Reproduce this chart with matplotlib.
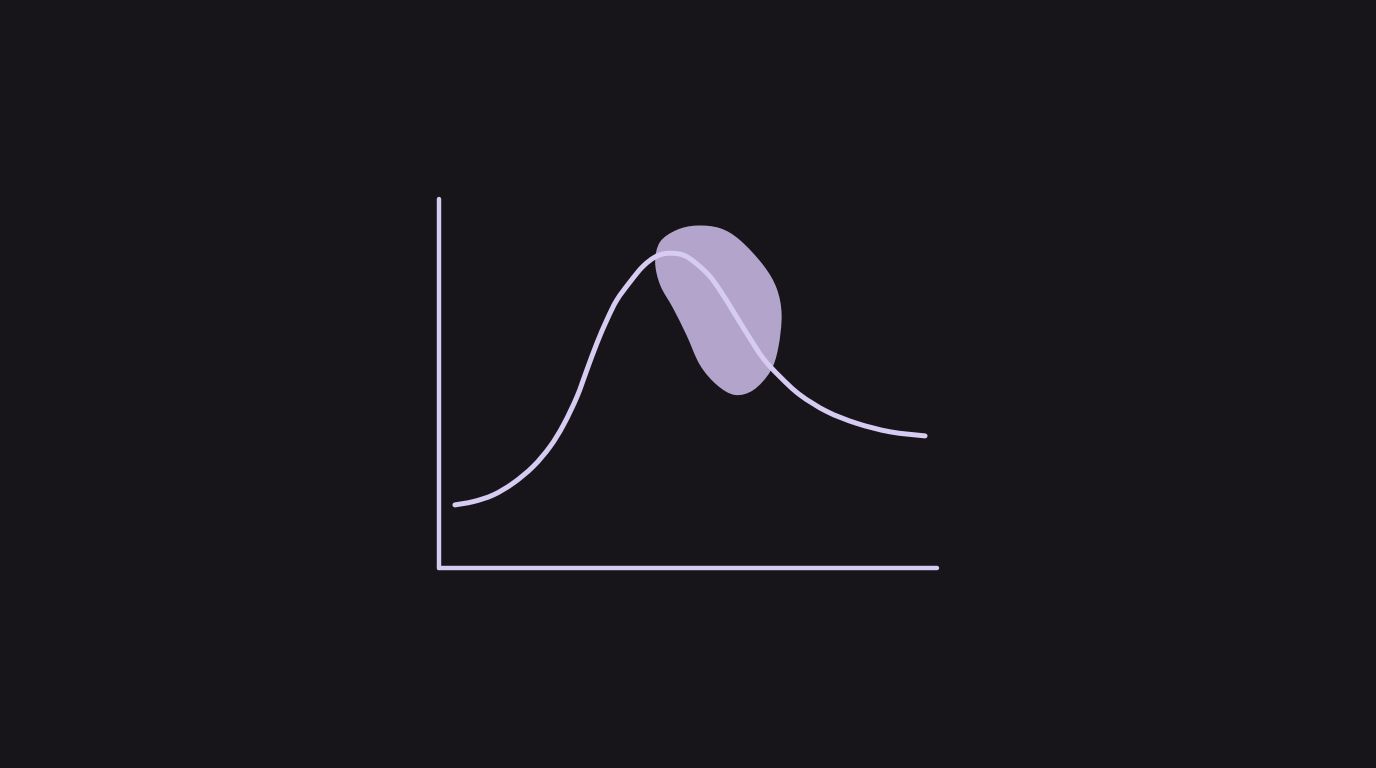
import matplotlib
matplotlib.use("Agg")
import matplotlib.pyplot as plt
from matplotlib.patches import PathPatch
from matplotlib.path import Path

# Curve data (arbitrary units, axes span 0..10)
curve_x = [0.32, 0.69, 1.09, 1.49, 1.89, 2.23, 2.50, 2.77, 2.97, 3.17, 3.37, 3.57,
           3.84, 4.10, 4.37, 4.64, 4.97, 5.38, 5.64, 5.91, 6.18, 6.51, 6.85, 7.25,
           7.79, 8.39, 9.06, 9.76]
curve_y = [1.71, 1.80, 1.98, 2.30, 2.75, 3.29, 3.88, 4.64, 5.37, 6.09, 6.72, 7.26,
           7.76, 8.18, 8.45, 8.53, 8.44, 7.99, 7.53, 6.95, 6.36, 5.68, 5.18, 4.69,
           4.24, 3.92, 3.69, 3.58]

# Highlight blob outline
blob_x = [5.17, 4.77, 4.44, 4.34, 4.44, 4.70, 4.97, 5.24, 5.58, 5.94, 6.31, 6.65,
          6.81, 6.88, 6.78, 6.51, 6.04, 5.64]
blob_y = [9.28, 9.16, 8.84, 8.30, 7.67, 7.04, 6.31, 5.50, 4.96, 4.69, 4.82, 5.32,
          5.95, 6.86, 7.58, 8.21, 8.89, 9.21]

BG = "#18151a"
LINE = "#d6ccf2"
BLOB = "#b2a4cb"


def smooth_path(xs, ys, closed=False):
    """Bezier path passing through the given points (Catmull-Rom style)."""
    pts = list(zip(xs, ys))
    n = len(pts)
    if closed:
        get = lambda i: pts[i % n]
        segs = range(n)
    else:
        get = lambda i: pts[min(max(i, 0), n - 1)]
        segs = range(n - 1)
    verts = [pts[0]]
    codes = [Path.MOVETO]
    for i in segs:
        p0, p1, p2, p3 = get(i - 1), get(i), get(i + 1), get(i + 2)
        c1 = (p1[0] + (p2[0] - p0[0]) / 6, p1[1] + (p2[1] - p0[1]) / 6)
        c2 = (p2[0] - (p3[0] - p1[0]) / 6, p2[1] - (p3[1] - p1[1]) / 6)
        verts += [c1, c2, p2]
        codes += [Path.CURVE4] * 3
    if closed:
        verts.append(pts[0])
        codes.append(Path.CLOSEPOLY)
    return Path(verts, codes)


W, H = 1376, 768
fig = plt.figure(figsize=(W / 100, H / 100), dpi=100, facecolor=BG)
ax = fig.add_axes([439 / W, (H - 568) / H, 498 / W, 369 / H])
ax.set_facecolor(BG)
ax.set_xlim(0, 10)
ax.set_ylim(0, 10)

for s in ["top", "right"]:
    ax.spines[s].set_visible(False)
for s in ["left", "bottom"]:
    ax.spines[s].set_color(LINE)
    ax.spines[s].set_linewidth(3.2)
    ax.spines[s].set_capstyle("round")
ax.set_xticks([])
ax.set_yticks([])

ax.add_patch(PathPatch(smooth_path(blob_x, blob_y, closed=True), facecolor=BLOB,
                       edgecolor="none", zorder=2))
ax.add_patch(PathPatch(smooth_path(curve_x, curve_y), facecolor="none",
                       edgecolor=LINE, linewidth=3.6, capstyle="round",
                       joinstyle="round", zorder=3, clip_on=False))

fig.savefig("out.png", dpi=100, facecolor=BG)
